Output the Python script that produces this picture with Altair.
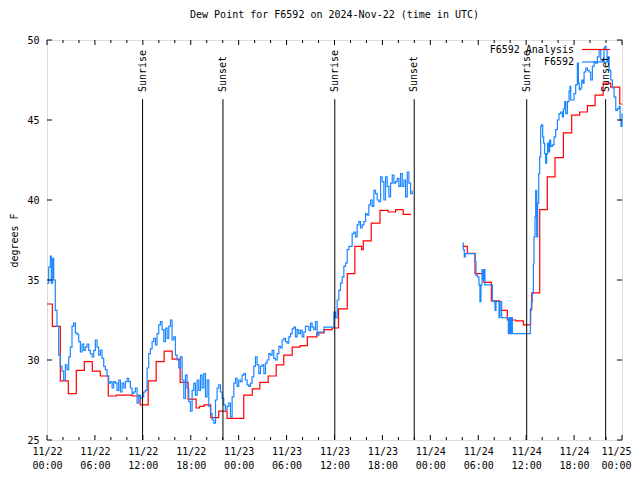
import altair as alt
import pandas as pd
from datetime import datetime, timedelta, timezone

FONT = "DejaVu Sans Mono"
TITLE = "Dew Point for F6592 on 2024-Nov-22 (time in UTC)"
Y_TITLE = "degrees F"
RED = "#ff0000"
BLUE = "#1a86ff"

# ---- F6592 (observations), hours after 2024-11-22 00:00 UTC ----
OBS_H1 = [0.00, 0.21, 0.42, 0.54, 0.71, 0.84, 1.04, 1.25, 1.46, 1.67, 1.88, 2.09, 2.30, 2.51, 2.72, 2.92,
          3.13, 3.34, 3.55, 3.76, 3.97, 4.18, 4.39, 4.60, 4.80, 5.01, 5.22, 5.43, 5.64, 5.85, 6.06, 6.27,
          6.47, 6.68, 6.89, 7.10, 7.31, 7.52, 7.73, 7.94, 8.15, 8.35, 8.56, 8.77, 8.98, 9.19, 9.40, 9.61,
          9.82, 10.03, 10.23, 10.44, 10.65, 10.86, 11.07, 11.28, 11.49, 11.70, 11.91, 12.11, 12.32, 12.53,
          12.74, 12.95, 13.16, 13.37, 13.58, 13.78, 13.99, 14.20, 14.41, 14.62, 14.83, 15.04, 15.25, 15.46,
          15.66, 15.87, 16.08, 16.29, 16.50, 16.71, 16.92, 17.13, 17.34, 17.54, 17.75, 17.96, 18.17, 18.38,
          18.59, 18.80, 19.01, 19.22, 19.42, 19.63, 19.84, 20.05, 20.26, 20.47, 20.68, 20.89, 21.10, 21.30,
          21.51, 21.72, 21.93, 22.13, 22.34, 22.55, 22.76, 22.97, 23.18, 23.39, 23.60, 23.80, 24.01, 24.22,
          24.43, 24.64, 24.85, 25.06, 25.27, 25.48, 25.68, 25.89, 26.10, 26.31, 26.52, 26.73, 26.94, 27.15,
          27.36, 27.56, 27.77, 27.98, 28.19, 28.40, 28.61, 28.82, 29.03, 29.24, 29.44, 29.65, 29.86, 30.07,
          30.28, 30.49, 30.70, 30.91, 31.12, 31.32, 31.53, 31.74, 31.95, 32.16, 32.37, 32.58, 32.79, 33.00,
          33.20, 33.41, 33.62, 33.83, 34.04, 34.25, 34.46, 34.67, 35.71, 35.92, 36.13, 36.34, 36.55, 36.75,
          36.96, 37.17, 37.38, 37.59, 37.80, 38.01, 38.21, 38.42, 38.63, 38.84, 39.05, 39.26, 39.47, 39.68,
          39.89, 40.09, 40.30, 40.51, 40.72, 40.93, 41.14, 41.35, 41.56, 41.77, 41.97, 42.18, 42.39, 42.60,
          42.81, 43.02, 43.23, 43.44, 43.65, 43.85, 44.06, 44.27, 44.48, 44.69, 44.90, 45.11, 45.32, 45.53,
          45.73]
OBS_V1 = [34.8, 35.8, 36.5, 34.8, 36.35, 35.0, 33.1, 32.1, 30.3, 29.6, 29.3, 28.75, 29.7, 29.4, 30.2, 30.8,
          32.1, 32.3, 31.7, 31.6, 31.15, 30.5, 31.0, 30.6, 30.8, 31.0, 30.6, 30.4, 30.2, 30.6, 31.25, 30.8,
          30.3, 30.6, 30.1, 29.6, 29.4, 29.0, 28.55, 28.65, 28.25, 28.65, 28.55, 28.1, 28.75, 28.0, 28.55, 28.25,
          28.65, 28.85, 28.65, 28.25, 27.9, 28.0, 28.25, 27.3, 27.8, 27.6, 27.7, 28.0, 28.1, 29.5,
          30.4, 30.7, 31.15, 31.35, 30.95, 31.65, 32.2, 32.4, 31.9, 31.15, 32.0, 31.35, 32.1, 32.5,
          31.25, 31.45, 30.3, 30.0, 29.5, 30.2, 28.75, 27.6, 29.05, 28.25, 27.4, 26.8, 28.1, 28.55,
          27.8, 28.75, 28.1, 29.05, 28.25, 29.15, 27.7, 28.75, 27.1, 26.65, 26.25, 26.05, 27.5, 28.25,
          28.45, 28.0, 27.6, 27.2, 26.9, 27.1, 27.3, 26.45, 27.7, 28.55, 28.85, 28.35, 28.75, 28.65,
          29.05, 29.15, 28.75, 28.45, 28.35, 28.55, 28.95, 29.6, 30.2, 29.7, 29.15, 29.6, 29.7, 29.15,
          29.8, 30.0, 30.4, 30.3, 30.6, 30.1, 30.0, 30.4, 30.85, 30.75, 31.25, 31.35, 31.15, 31.05,
          31.45, 31.65, 31.95, 32.05, 31.45, 31.9, 31.65, 31.85, 31.45, 31.75, 32.1, 32.1, 31.85, 32.3,
          32.05, 31.9, 32.4, 31.55, 31.75, 31.75, 31.75, 32.05, 32.05, 33.0, 32.65, 33.75, 34.35, 34.8,
          35.2, 35.85, 36.05, 36.9, 37.1, 37.1, 37.9, 38.0, 37.7, 38.45, 38.65, 38.25, 38.45, 38.65,
          39.15, 39.05, 39.7, 40.0, 39.6, 40.6, 40.4, 40.0, 39.9, 41.45, 41.15, 40.0, 41.45, 40.85,
          40.2, 41.05, 41.55, 41.05, 41.15, 41.35, 40.85, 41.65, 40.85, 41.25, 40.2, 41.75, 41.05, 40.4,
          40.6]
OBS_H2 = [52.04, 52.13, 52.25, 52.38, 53.59, 53.71, 53.88, 54.09, 54.21, 54.34, 54.47, 54.59, 54.72, 54.84,
          55.76, 55.97, 56.10, 56.22, 56.60, 56.72, 56.93, 57.64, 57.77, 57.89, 58.02, 58.14, 58.27, 60.52,
          60.65, 60.77, 60.90, 60.98, 61.11, 61.19, 61.32, 61.44, 61.57, 61.69, 61.82, 61.94, 62.07, 62.19,
          62.32, 62.44, 62.57, 62.69, 62.82, 62.94, 63.07, 63.28, 63.49, 63.70, 63.91, 64.11, 64.32, 64.53,
          64.66, 64.83, 64.95, 65.16, 65.37, 65.49, 65.58, 65.99, 66.20, 66.41, 66.54, 66.66, 66.83, 66.96,
          67.12, 67.25, 67.46, 67.67, 67.87, 68.08, 68.29, 68.50, 68.71, 68.92, 69.13, 69.34, 69.55, 69.75,
          69.88, 70.00, 70.13, 70.26, 70.38, 70.59, 70.80, 71.01, 71.22, 71.42, 71.63, 71.76, 71.88, 72.00]
OBS_V2 = [37.3, 36.9, 36.45, 36.65, 36.15, 35.3, 35.2, 34.7, 33.65, 34.7, 35.65, 35.0, 35.65, 34.7,
          33.7, 33.65, 33.1, 33.65, 32.65, 33.65, 32.65, 32.6, 31.65, 32.65, 31.65, 32.65, 31.65, 33.1,
          33.65, 34.15, 36.0, 37.7, 38.95, 40.6, 37.7, 39.8, 41.65, 42.7, 44.6, 44.7, 43.95, 43.55,
          42.9, 42.3, 42.9, 43.55, 43.0, 43.75, 43.35, 43.45, 43.95, 44.4, 45.0, 45.4, 45.5, 45.2,
          45.7, 46.15, 45.4, 46.15, 46.8, 47.1, 46.25, 46.65, 47.2, 48.55, 47.3, 46.9, 47.0, 47.5,
          47.3, 48.0, 48.25, 48.1, 48.0, 47.5, 48.35, 48.65, 48.55, 48.95, 49.4, 48.75, 48.65, 49.5,
          49.6, 49.4, 48.65, 48.95, 48.1, 47.5, 47.0, 46.45, 45.6, 45.7, 45.85, 45.0, 44.6, 45.4]

# ---- F6592 Analysis (hourly, step) ----
ANA_H1 = [0.0, 0.67, 1.67, 2.67, 3.67, 4.67, 5.67, 6.67, 7.67, 8.67, 9.67, 10.67, 11.67, 12.67, 13.67,
          14.67, 15.67, 16.67, 17.67, 18.67, 19.1, 19.67, 20.5, 21.5, 22.55, 24.64, 25.7, 26.65, 27.7,
          28.7, 29.65, 30.7, 31.7, 32.6, 33.8, 34.7, 35.7, 36.5, 37.6, 38.55, 39.4, 39.6, 40.6, 41.7,
          42.7, 43.65, 44.6, 45.6]
ANA_V1 = [33.5, 32.1, 28.7, 27.9, 29.35, 29.9, 29.3, 29.0, 27.75, 27.8, 27.8, 27.75, 27.2, 28.7, 29.9,
          30.55, 30.05, 28.6, 27.55, 27.0, 27.1, 27.2, 26.4, 26.8, 26.35, 27.8, 28.2, 28.6, 29.0,
          29.7, 30.3, 30.8, 30.9, 31.45, 31.7, 31.9, 32.0, 33.2, 35.4, 37.1, 36.9, 37.45, 38.55, 39.35,
          39.25, 39.4, 39.1, 39.1]
ANA_H2 = [52.04, 52.63, 53.6, 54.7, 55.64, 56.68, 57.64, 58.7, 59.65, 60.56, 60.7, 61.7, 62.65, 63.61,
          64.66, 65.7, 66.7, 67.67, 68.63, 69.63, 70.59, 71.72, 72.0]
ANA_V2 = [37.1, 36.67, 35.4, 34.85, 33.7, 33.1, 32.5, 32.45, 32.2, 33.2, 34.2, 39.4, 41.45, 42.65,
          44.2, 45.3, 45.5, 45.9, 46.55, 47.3, 47.05, 46.0, 46.0]

# ---- Sun events ----
SUN_TIMES = ["2024-11-22T11:58:00Z", "2024-11-22T22:02:00Z", "2024-11-23T12:02:00Z",
             "2024-11-23T21:59:00Z", "2024-11-24T12:04:00Z", "2024-11-24T21:57:00Z"]
SUN_LABELS = ["Sunrise", "Sunset", "Sunrise", "Sunset", "Sunrise", "Sunset"]

Y_TICKS = [25, 30, 35, 40, 45, 50]
LEGEND_LABELS = ["F6592 Analysis", "F6592"]

BASE = datetime(2024, 11, 22, tzinfo=timezone.utc)
END_MS = int((BASE + timedelta(hours=72)).timestamp() * 1000)


def iso(h):
    return (BASE + timedelta(hours=h)).strftime("%Y-%m-%dT%H:%M:%SZ")


def series_df(parts):
    rows = []
    for seg, (hs, vs) in enumerate(parts):
        for h, v in zip(hs, vs):
            rows.append({"t": iso(h), "v": v, "seg": seg})
    return pd.DataFrame(rows)


ana_df = series_df([(ANA_H1, ANA_V1), (ANA_H2, ANA_V2)])
obs_df = series_df([(OBS_H1, OBS_V1), (OBS_H2, OBS_V2)])
sun_df = pd.DataFrame({"t": SUN_TIMES, "label": SUN_LABELS, "top": 46.3, "bottom": 25.0, "ly": 46.75})

major_df = pd.DataFrame({"t": [iso(h) for h in range(0, 73, 6)]})
minor_df = pd.DataFrame({"t": [iso(h) for h in range(0, 73, 2) if h % 6]})
ytick_df = pd.DataFrame({"v": Y_TICKS})

W, H = 575, 400

xscale = alt.Scale(type="utc", domain=[alt.DateTime(year=2024, month=11, date=22, utc=True),
                                       alt.DateTime(year=2024, month=11, date=25, utc=True)], nice=False)
yscale = alt.Scale(domain=[25, 50], nice=False, zero=False)

xaxis = alt.Axis(
    values=[alt.DateTime(year=2024, month=11, date=22 + h // 24, hours=h % 24, utc=True) for h in range(0, 73, 6)],
    labelExpr="[utcFormat(datum.value, '%m/%d'), utcFormat(datum.value, '%H:%M')]",
    ticks=False, tickSize=0, domain=False, grid=False, title=None,
    labelPadding=6, labelLineHeight=14, labelFlush=False, labelOverlap=False,
    labelOffset={"condition": {"test": f"datum.value >= {END_MS}", "value": -6}, "value": 0},
    labelFont=FONT, labelFontSize=10, labelColor="black",
)
yaxis = alt.Axis(values=Y_TICKS, ticks=False, tickSize=0, domain=False, grid=False,
                 title=Y_TITLE, labelPadding=8, titlePadding=7,
                 labelFont=FONT, labelFontSize=10, labelColor="black",
                 titleFont=FONT, titleFontSize=10, titleFontWeight="normal", titleColor="black")


def X(field):
    return alt.X(field, type="temporal", scale=xscale, axis=xaxis)


def Y(field):
    return alt.Y(field, type="quantitative", scale=yscale, axis=yaxis)


ana = alt.Chart(ana_df).mark_line(interpolate="step-after", color=RED, strokeWidth=1.2).encode(
    x=X("t"), y=Y("v"), detail="seg:N",
)
obs = alt.Chart(obs_df).mark_line(interpolate="step-after", color=BLUE, strokeWidth=1.2).encode(
    x=X("t"), y=Y("v"), detail="seg:N",
)
sun_rules = alt.Chart(sun_df).mark_rule(color="black", strokeWidth=1).encode(
    x=X("t"), y=Y("top"), y2="bottom:Q",
)
sun_text = alt.Chart(sun_df).mark_text(angle=270, align="left", baseline="middle",
                                       font=FONT, fontSize=10, color="black").encode(
    x=X("t"), y=Y("ly"), text="label:N",
)

tick_kw = dict(color="black", strokeWidth=1)
xt_major_b = alt.Chart(major_df).mark_rule(**tick_kw).encode(
    x=X("t"), y=alt.value(H), y2=alt.value(H - 5))
xt_major_t = alt.Chart(major_df).mark_rule(**tick_kw).encode(
    x=X("t"), y=alt.value(0), y2=alt.value(5))
xt_minor_b = alt.Chart(minor_df).mark_rule(**tick_kw).encode(
    x=X("t"), y=alt.value(H), y2=alt.value(H - 3))
xt_minor_t = alt.Chart(minor_df).mark_rule(**tick_kw).encode(
    x=X("t"), y=alt.value(0), y2=alt.value(3))
yt_l = alt.Chart(ytick_df).mark_rule(**tick_kw).encode(
    y=Y("v"), x=alt.value(0), x2=alt.value(5))
yt_r = alt.Chart(ytick_df).mark_rule(**tick_kw).encode(
    y=Y("v"), x=alt.value(W), x2=alt.value(W - 5))

# legend (gnuplot style: text, then line sample)
leg_df = pd.DataFrame({"label": LEGEND_LABELS})
leg_text1 = alt.Chart(leg_df.iloc[[0]]).mark_text(align="right", baseline="middle", font=FONT,
                                                  fontSize=10, color="black").encode(
    x=alt.value(527), y=alt.value(10), text="label:N")
leg_text2 = alt.Chart(leg_df.iloc[[1]]).mark_text(align="right", baseline="middle", font=FONT,
                                                  fontSize=10, color="black").encode(
    x=alt.value(527), y=alt.value(22), text="label:N")
leg_line1 = alt.Chart(leg_df.iloc[[0]]).mark_rule(color=RED, strokeWidth=1.2).encode(
    x=alt.value(535), x2=alt.value(563), y=alt.value(9.5))
leg_line2 = alt.Chart(leg_df.iloc[[1]]).mark_rule(color=BLUE, strokeWidth=1.2).encode(
    x=alt.value(535), x2=alt.value(563), y=alt.value(22))

chart = alt.layer(
    ana, obs, sun_rules, sun_text,
    xt_major_b, xt_major_t, xt_minor_b, xt_minor_t, yt_l, yt_r,
    leg_text1, leg_text2, leg_line1, leg_line2,
).properties(
    width=W, height=H,
    title=alt.TitleParams(TITLE, font=FONT, fontSize=10, fontWeight="normal", anchor="middle", offset=15),
    autosize="none",
    padding={"left": 39, "top": 32, "right": 10, "bottom": 32},
).configure_view(
    stroke="black", strokeWidth=1,
).configure(background="white")

chart.save("out.html", embed_options={"renderer": "svg", "actions": False})
